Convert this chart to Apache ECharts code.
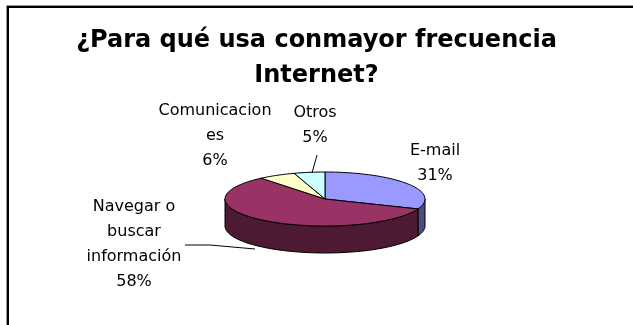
<!DOCTYPE html>
<html>
<head>
<meta charset="utf-8">
<script src="https://cdn.jsdelivr.net/npm/echarts@6/dist/echarts.min.js"></script>
<style>
  html, body { margin: 0; padding: 0; background: #fff; }
  #chart { width: 633px; height: 325px; }
</style>
</head>
<body>
<div id="chart"></div>
<script>
// Survey answers: main use of the Internet (percent of respondents)
const categories = ['E-mail', 'Navegar o buscar información', 'Comunicaciones', 'Otros'];
const shares = [31, 58, 6, 5];
// Wrapped label text shown next to each slice
const labelText = ['E-mail', 'Navegar o\nbuscar\ninformación', 'Comunicacion\nes', 'Otros'];

const topColors = ['#9999FF', '#993366', '#FFFFCC', '#CCFFFF'];
const sideColors = ['#4C4C80', '#4D1933', '#808066', '#668080'];

// Tilted pie geometry (ellipse centre, radii and wall depth, px)
const CX = 325, CY = 199, RX = 100, RY = 27, DEPTH = 27;

const total = shares.reduce((a, b) => a + b, 0);
const startAngles = [];
let acc = 0;
shares.forEach(v => { startAngles.push(acc / total * 360); acc += v; });

// angle measured clockwise from 12 o'clock
function rim(theta, dy) {
  const r = theta * Math.PI / 180;
  return [CX + RX * Math.sin(r), CY - RY * Math.cos(r) + dy];
}
function arc(a0, a1, dy) {
  const pts = [];
  const n = Math.max(2, Math.ceil((a1 - a0) / 2));
  for (let i = 0; i <= n; i++) pts.push(rim(a0 + (a1 - a0) * i / n, dy));
  return pts;
}
function sliceSpan(params, api) {
  const a0 = startAngles[params.dataIndex];
  return [a0, a0 + api.value(0) / total * 360];
}

function renderWall(params, api) {
  const [a0, a1] = sliceSpan(params, api);
  const b0 = Math.max(a0, 90), b1 = Math.min(a1, 270);
  if (b1 <= b0) return { type: 'group', children: [] };
  const pts = arc(b0, b1, 0).concat(arc(b0, b1, DEPTH).reverse());
  return {
    type: 'polygon',
    shape: { points: pts },
    style: { fill: sideColors[params.dataIndex], stroke: '#000', lineWidth: 1 }
  };
}

function renderTop(params, api) {
  const [a0, a1] = sliceSpan(params, api);
  const pts = [[CX, CY]].concat(arc(a0, a1, 0));
  return {
    type: 'polygon',
    shape: { points: pts },
    style: { fill: topColors[params.dataIndex], stroke: '#000', lineWidth: 1 }
  };
}

// Label anchors (centre of each text block)
const labelPos = [[435, 163], [134, 244], [215, 136], [315, 125]];
const labelFont = { fontSize: 16, fontFamily: 'DejaVu Sans', lineHeight: 25, fill: '#000' };

const labels = shares.map((v, i) => ({
  type: 'text',
  x: labelPos[i][0],
  y: labelPos[i][1],
  z: 10,
  style: Object.assign({
    text: labelText[i] + '\n' + Math.round(v / total * 100) + '%',
    align: 'center',
    verticalAlign: 'middle'
  }, labelFont)
}));

const frame = [
  { type: 'rect', shape: { x: 6.5, y: 5.5, width: 700, height: 400 }, style: { fill: null, stroke: '#999', lineWidth: 1 }, z: 1 },
  { type: 'rect', shape: { x: 8, y: 7, width: 700, height: 400 }, style: { fill: null, stroke: '#000', lineWidth: 2 }, z: 1 }
];

const leaders = [
  { type: 'polyline', shape: { points: [[317, 155], [312, 173]] }, style: { stroke: '#000', lineWidth: 1, fill: null }, z: 10 },
  { type: 'polyline', shape: { points: [[185, 245], [210, 245], [255, 249]] }, style: { stroke: '#000', lineWidth: 1, fill: null }, z: 10 }
];

const chart = echarts.init(document.getElementById('chart'), null, { renderer: 'canvas' });
chart.setOption({
  backgroundColor: '#fff',
  animation: false,
  title: {
    text: '¿Para qué usa conmayor frecuencia\nInternet?',
    left: 'center',
    top: 18,
    textStyle: {
      fontFamily: 'DejaVu Sans',
      fontSize: 24,
      fontWeight: 'bold',
      lineHeight: 35,
      color: '#000'
    }
  },
  graphic: frame.concat(leaders, labels),
  series: [
    {
      type: 'custom',
      name: 'walls',
      coordinateSystem: 'none',
      silent: true,
      z: 2,
      renderItem: renderWall,
      data: shares
    },
    {
      type: 'custom',
      name: 'tops',
      coordinateSystem: 'none',
      silent: true,
      z: 3,
      renderItem: renderTop,
      data: shares
    }
  ]
});
</script>
</body>
</html>
